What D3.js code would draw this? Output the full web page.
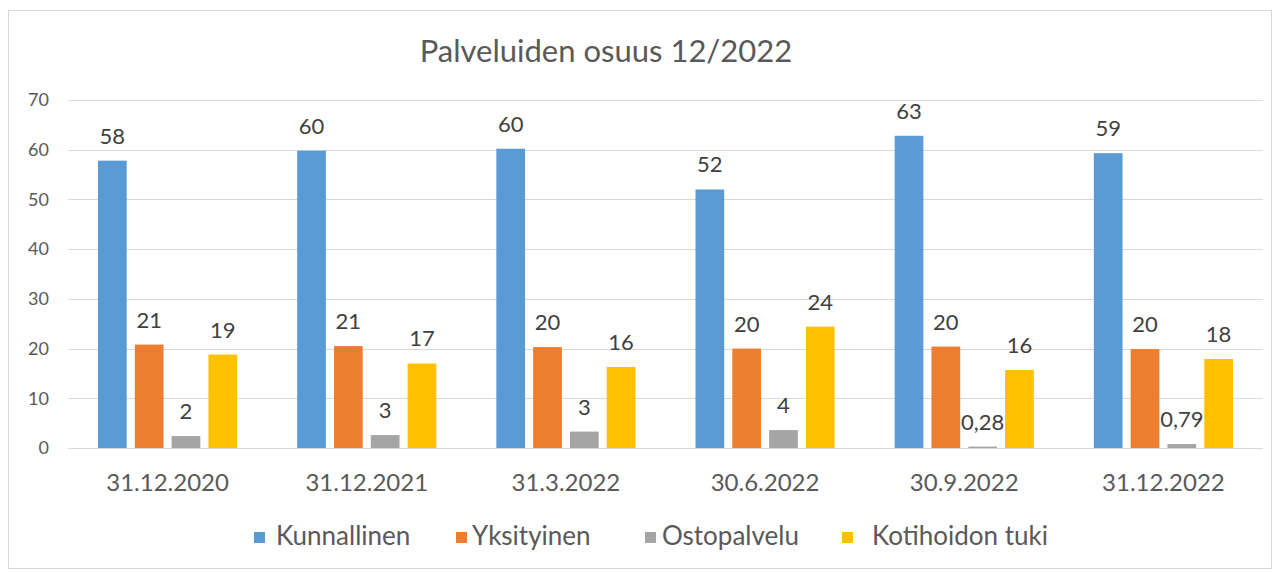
<!DOCTYPE html>
<html>
<head>
<meta charset="utf-8">
<script src="https://cdn.jsdelivr.net/npm/d3@7"></script>
<style>
  body { margin: 0; background: #fff; }
  svg text { font-family: Lato, "Open Sans", sans-serif; }
</style>
</head>
<body>
<div id="graph"></div>
<script>
const chartTitle = 'Palveluiden osuus 12/2022';
const categories = ['31.12.2020', '31.12.2021', '31.3.2022', '30.6.2022', '30.9.2022', '31.12.2022'];
const seriesNames = ['Kunnallinen', 'Yksityinen', 'Ostopalvelu', 'Kotihoidon tuki'];
const seriesColors = ['#5B9BD5', '#ED7D31', '#A5A5A5', '#FFC000'];
const kunnallinen = [57.8, 59.8, 60.2, 52.0, 62.8, 59.3];
const yksityinen = [20.8, 20.5, 20.3, 20.0, 20.4, 19.9];
const ostopalvelu = [2.4, 2.6, 3.3, 3.6, 0.28, 0.79];
const kotihoidonTuki = [18.8, 17.0, 16.3, 24.4, 15.7, 17.9];
const yTicks = [0, 10, 20, 30, 40, 50, 60, 70];

const seriesValues = [kunnallinen, yksityinen, ostopalvelu, kotihoidonTuki];

const width = 1279, height = 572;
const plotLeft = 68, plotRight = 1263, plotTop = 100, plotBottom = 448;

function formatLabel(v) {
    if (v < 1) return d3.format('.2f')(v).replace('.', ',');
    return String(Math.round(v));
}

let svg = d3.select('div#graph')
    .append('svg')
    .attr('width', width)
    .attr('height', height);

// outer frame
svg.append('rect')
    .attr('x', 8.5).attr('y', 10.5)
    .attr('width', 1263).attr('height', 558)
    .attr('fill', '#fff')
    .attr('stroke', '#D9D9D9');

svg.append('text')
    .attr('x', 606).attr('y', 62)
    .attr('text-anchor', 'middle')
    .attr('font-size', 31)
    .attr('fill', '#595959')
    .text(chartTitle);

let scaleY = d3.scaleLinear().domain([0, 70]).range([plotBottom, plotTop]);
let scaleX = d3.scaleBand().domain(categories).range([plotLeft, plotRight]);
let scaleInner = d3.scaleBand()
    .domain(seriesNames)
    .range([30, scaleX.bandwidth() - 30])
    .paddingInner(0.22);

// gridlines
svg.append('g')
    .selectAll('line')
    .data(yTicks)
    .enter()
    .append('line')
        .attr('x1', plotLeft).attr('x2', plotRight)
        .attr('y1', d => Math.round(scaleY(d)) + 0.5)
        .attr('y2', d => Math.round(scaleY(d)) + 0.5)
        .attr('stroke', '#D9D9D9')
        .attr('stroke-width', 1);

// y axis labels
let axisY = d3.axisLeft(scaleY).tickValues(yTicks).tickSize(0).tickPadding(0);
let gY = svg.append('g')
    .attr('transform', `translate(49, 0)`)
    .call(axisY);
gY.select('.domain').remove();
gY.selectAll('text')
    .attr('font-size', 18)
    .attr('fill', '#595959')
    .style('font-family', 'Lato, "Open Sans", sans-serif');

// x axis labels
let axisX = d3.axisBottom(scaleX).tickSize(0).tickPadding(0);
let gX = svg.append('g')
    .attr('transform', `translate(0, 474)`)
    .call(axisX);
gX.select('.domain').remove();
gX.selectAll('text')
    .attr('font-size', 24)
    .attr('fill', '#595959')
    .attr('dy', '0.7em')
    .style('font-family', 'Lato, "Open Sans", sans-serif');

// bars
let groups = svg.append('g')
    .selectAll('g')
    .data(categories)
    .enter()
    .append('g')
        .attr('transform', d => `translate(${ scaleX(d) }, 0)`);

let cells = groups.selectAll('g')
    .data((cat, ci) => seriesNames.map((name, si) => ({ name: name, value: seriesValues[si][ci], color: seriesColors[si] })))
    .enter()
    .append('g');

cells.append('rect')
    .attr('x', d => scaleInner(d.name))
    .attr('y', d => scaleY(d.value))
    .attr('width', scaleInner.bandwidth())
    .attr('height', d => plotBottom - scaleY(d.value))
    .attr('fill', d => d.color);

cells.append('text')
    .attr('x', d => scaleInner(d.name) + scaleInner.bandwidth() / 2)
    .attr('y', d => scaleY(d.value) - 17)
    .attr('text-anchor', 'middle')
    .attr('font-size', 22)
    .attr('fill', '#404040')
    .text(d => formatLabel(d.value));

// legend
let legendSquareX = [254, 456, 645, 842];
let legendTextX = [276, 472, 662, 872];
let legend = svg.append('g')
    .selectAll('g')
    .data(seriesNames)
    .enter()
    .append('g');
legend.append('rect')
    .attr('x', (d, i) => legendSquareX[i])
    .attr('y', 532)
    .attr('width', 11).attr('height', 11)
    .attr('fill', (d, i) => seriesColors[i]);
legend.append('text')
    .attr('x', (d, i) => legendTextX[i])
    .attr('y', 545)
    .attr('font-size', 26)
    .attr('fill', '#595959')
    .text(d => d);
</script>
</body>
</html>
